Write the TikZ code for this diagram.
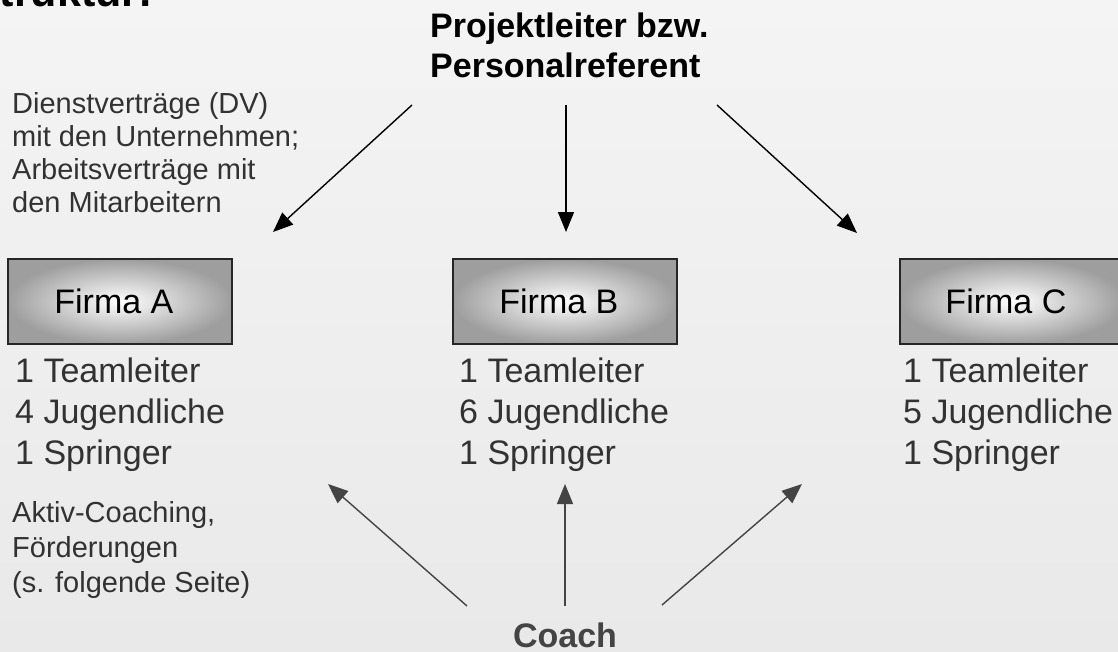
\documentclass[tikz,border=0pt]{standalone}
\usepackage{fontspec}
\setmainfont{Liberation Sans}
\usetikzlibrary{arrows.meta}
\definecolor{bgtop}{RGB}{244,244,244}
\definecolor{bgbot}{RGB}{233,233,233}
\definecolor{boxgray}{RGB}{158,158,158}
\definecolor{txtgray}{RGB}{50,50,50}
\definecolor{arrgray}{RGB}{68,68,68}
\tikzset{
  firmabox/.style={draw=black!85, line width=1.8pt, inner color=white, outer color=boxgray,
    minimum width=224pt, minimum height=85pt, anchor=north west, inner sep=0pt,
    font=\fontsize{34}{36}\selectfont, execute at end node={\hspace*{12pt}}},
  listtext/.style={anchor=base west, inner sep=0pt, align=left, text=txtgray,
    font=\fontsize{34}{41}\selectfont},
  toparrow/.style={draw=black, line width=1.4pt, -{Triangle[length=20pt,width=16pt]}},
  botarrow/.style={draw=arrgray, line width=1.4pt, -{Triangle[length=20pt,width=16pt]}},
}
\begin{document}
\begin{tikzpicture}[x=1pt,y=-1pt]
\clip (0,0) rectangle (1118,651);
\shade[top color=bgtop, bottom color=bgbot] (0,0) rectangle (1118,651);
% cut-off title
\node[anchor=base west, inner sep=0pt, font=\fontsize{43}{46}\selectfont\bfseries] (title) at (-29,6) {Struktur:};
% top node (anchor = baseline of last line)
\node[anchor=base west, inner sep=0pt, align=left, font=\fontsize{34}{40}\selectfont\bfseries] (pl) at (430,77) {Projektleiter bzw.\\Personalreferent};
% left text
\node[anchor=base west, inner sep=0pt, align=left, text=txtgray, font=\fontsize{29}{33}\selectfont] (dv) at (12,212) {Dienstverträge (DV)\\mit den Unternehmen;\\Arbeitsverträge mit\\den Mitarbeitern};
% boxes
\node[firmabox] (fa) at (7,258) {Firma A};
\node[firmabox] (fb) at (452,258) {Firma B};
\node[firmabox] (fc) at (899,258) {Firma C};
% lists
\node[listtext] (la) at (15,464) {1 Teamleiter\\4 Jugendliche\\1 Springer};
\node[listtext] (lb) at (459,464) {1 Teamleiter\\6 Jugendliche\\1 Springer};
\node[listtext] (lc) at (903,464) {1 Teamleiter\\5 Jugendliche\\1 Springer};
% coaching text
\node[anchor=base west, inner sep=0pt, align=left, text=txtgray, font=\fontsize{29}{35}\selectfont] (ac) at (12,592) {Aktiv-Coaching,\\Förderungen\\(s. folgende Seite)};
% coach
\node[anchor=base, inner sep=0pt, text=arrgray, font=\fontsize{34}{36}\selectfont\bfseries] (coach) at (565,647) {Coach};
% arrow endpoints
\coordinate (t1s) at (412,105); \coordinate (t1e) at (273,232);
\coordinate (t2s) at (566,105); \coordinate (t2e) at (566,232);
\coordinate (t3s) at (717,105); \coordinate (t3e) at (857,233);
\coordinate (b1s) at (467,606); \coordinate (b1e) at (328,484);
\coordinate (b2s) at (565,606); \coordinate (b2e) at (565,484);
\coordinate (b3s) at (662,605); \coordinate (b3e) at (802,484);
\draw[toparrow] (t1s) -- (t1e);
\draw[toparrow] (t2s) -- (t2e);
\draw[toparrow] (t3s) -- (t3e);
\draw[botarrow] (b1s) -- (b1e);
\draw[botarrow] (b2s) -- (b2e);
\draw[botarrow] (b3s) -- (b3e);
\end{tikzpicture}
\end{document}
